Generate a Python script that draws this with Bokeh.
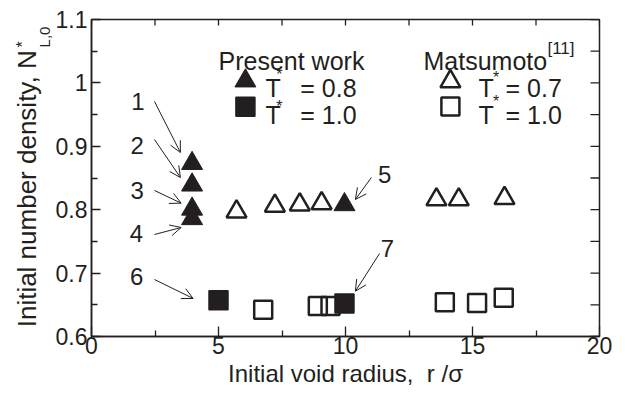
import math
from bokeh.plotting import figure
from bokeh.models import Range1d, FixedTicker, Label, Arrow, OpenHead
from bokeh.embed import file_html
from bokeh.resources import INLINE

# ---------------- data ----------------
x_ticks = [0, 5, 10, 15, 20]
x_tick_labels = ["0", "5", "10", "15", "20"]
y_ticks = [0.6, 0.7, 0.8, 0.9, 1.0, 1.1]
y_tick_labels = ["0.6", "0.7", "0.8", "0.9", "1", "1.1"]

# Present work, T* = 0.8 (filled triangles) ; points 1-4 and 5
present_t08_x = [3.96, 3.96, 3.96, 3.96, 9.96]
present_t08_y = [0.873, 0.839, 0.801, 0.786, 0.808]
# Present work, T* = 1.0 (filled squares) ; points 6 and 7
present_t10_x = [5.00, 9.96]
present_t10_y = [0.657, 0.652]
# Matsumoto [11], T* = 0.7 (open triangles)
mats_t07_x = [5.71, 7.22, 8.20, 9.06, 13.58, 14.46, 16.26]
mats_t07_y = [0.797, 0.806, 0.808, 0.810, 0.816, 0.816, 0.818]
# Matsumoto [11], T* = 1.0 (open squares)
mats_t10_x = [6.76, 8.91, 9.41, 13.91, 15.18, 16.23]
mats_t10_y = [0.642, 0.648, 0.648, 0.654, 0.653, 0.661]

# ---------------- style ----------------
INK = "#231f20"
FONT = "Liberation Sans"
FS = "24px"
LEG_FS = "25px"
TICK_FS = "23px"
SMALL_FS = "16px"
NBSP = "\u00a0"

X0, X1 = 0, 20
Y0, Y1 = 0.6, 1.1
FRAME_W, FRAME_H = 508, 317

p = figure(width=625, height=396,
           x_range=Range1d(X0, X1), y_range=Range1d(Y0, Y1),
           output_backend="svg", toolbar_location=None,
           min_border_left=91, min_border_right=26,
           min_border_top=19, min_border_bottom=60)
p.xgrid.visible = False
p.ygrid.visible = False
p.outline_line_color = INK
p.outline_line_width = 1.5
p.background_fill_color = "white"
p.border_fill_color = "white"


def style_axis(ax, tick_in, minor_in, standoff):
    ax.axis_line_color = INK
    ax.axis_line_width = 1.5
    ax.major_tick_line_color = INK
    ax.major_tick_line_width = 1.3
    ax.major_tick_in = tick_in
    ax.major_tick_out = 0
    ax.minor_tick_line_color = INK
    ax.minor_tick_line_width = 1.3
    ax.minor_tick_in = minor_in
    ax.minor_tick_out = 0
    ax.major_label_text_font = FONT
    ax.major_label_text_font_size = TICK_FS
    ax.major_label_text_color = INK
    ax.major_label_standoff = standoff
    ax.axis_label_text_font = FONT
    ax.axis_label_text_font_style = "normal"
    ax.axis_label_text_color = INK


x_minor = [(a + b) / 2 for a, b in zip(x_ticks[:-1], x_ticks[1:])]
y_minor = [round((a + b) / 2, 3) for a, b in zip(y_ticks[:-1], y_ticks[1:])]

xb = p.xaxis[0]
xb.ticker = FixedTicker(ticks=x_ticks, minor_ticks=x_minor)
xb.major_label_overrides = {t: s for t, s in zip(x_ticks, x_tick_labels)}
style_axis(xb, 10, 6, 0)
xb.axis_label = "Initial void radius," + NBSP + NBSP + "r /\u03c3"
xb.axis_label_text_font_size = FS
xb.axis_label_standoff = 3

yl = p.yaxis[0]
yl.ticker = FixedTicker(ticks=y_ticks, minor_ticks=y_minor)
yl.major_label_overrides = {t: s for t, s in zip(y_ticks, y_tick_labels)}
style_axis(yl, 9, 6, 4)
yl.axis_label = "Initial number density, N" + NBSP * 3
yl.axis_label_text_font_size = "26px"
yl.axis_label_standoff = 11

# mirrored inward ticks on the top and right edges, from the tick lists
top_ticks = sorted(x_ticks + x_minor)
right_ticks = sorted(y_ticks + y_minor)
top_len = 6 * (Y1 - Y0) / FRAME_H
right_len = 9 * (X1 - X0) / FRAME_W
p.segment(x0=top_ticks, y0=[Y1] * len(top_ticks), x1=top_ticks,
          y1=[Y1 - top_len] * len(top_ticks), line_color=INK, line_width=1.3)
p.segment(x0=[X1] * len(right_ticks), y0=right_ticks,
          x1=[X1 - right_len] * len(right_ticks), y1=right_ticks,
          line_color=INK, line_width=1.3)

# ---------------- data marks ----------------
p.scatter(mats_t07_x, mats_t07_y, marker="triangle", size=20,
          fill_color=None, line_color=INK, line_width=2.5)
p.scatter(mats_t10_x, mats_t10_y, marker="square", size=18,
          fill_color=None, line_color=INK, line_width=2.5)
p.scatter(present_t08_x, present_t08_y, marker="triangle", size=21,
          fill_color=INK, line_color=INK, line_width=1)
p.scatter(present_t10_x, present_t10_y, marker="square", size=19,
          fill_color=INK, line_color=INK, line_width=1.5)


def make_label(x, y, text, size=FS, align="left", baseline="alphabetic",
               angle=0.0, font=FONT, style="normal"):
    return Label(x=x, y=y, text=text, text_font=font,
                 text_font_size=size, text_color=INK,
                 text_align=align, text_baseline=baseline,
                 angle=angle, text_font_style=style)


def label(*args, **kw):
    p.add_layout(make_label(*args, **kw))


# ---------------- legend (drawn by hand) ----------------
label(5.00, 1.0353, "Present work", size=LEG_FS)
p.scatter([6.06], [1.0032], marker="triangle", size=21,
          fill_color=INK, line_color=INK, line_width=1)
p.scatter([6.06], [0.9623], marker="square", size=19,
          fill_color=INK, line_color=INK, line_width=1.5)
label(6.85, 0.992, "T", size=LEG_FS)
label(7.27, 1.0125, "*", size=SMALL_FS)
label(8.22, 0.992, "= 0.8", size=LEG_FS)
label(6.85, 0.9486, "T", size=LEG_FS)
label(7.27, 0.962, "*", size=SMALL_FS)
label(8.22, 0.9486, "= 1.0", size=LEG_FS)

label(13.07, 1.0353, "Matsumoto", size=LEG_FS)
label(17.95, 1.0543, "[11]", size="17px")
p.scatter([14.13], [1.0022], marker="triangle", size=20,
          fill_color=None, line_color=INK, line_width=2.5)
p.scatter([14.13], [0.9628], marker="square", size=18,
          fill_color=None, line_color=INK, line_width=2.5)
label(15.24, 0.9912, "T", size=LEG_FS)
label(15.81, 1.0093, "*", size=SMALL_FS)
label(16.30, 0.9912, "= 0.7", size=LEG_FS)
label(15.24, 0.9486, "T", size=LEG_FS)
label(15.81, 0.9699, "*", size=SMALL_FS)
label(16.30, 0.9486, "= 1.0", size=LEG_FS)

# ---------------- numbered annotations ----------------
num_labels = [("1", 1.83, 0.9707), ("2", 1.80, 0.9013), ("3", 1.80, 0.8295),
              ("4", 1.77, 0.7617), ("5", 11.54, 0.8555), ("6", 1.78, 0.695),
              ("7", 11.65, 0.7388)]
for t, x, y in num_labels:
    label(x, y, t, align="center", baseline="middle")

arrows = [(2.48, 0.9707, 3.50, 0.8902), (2.48, 0.9107, 3.50, 0.8508),
          (2.48, 0.8303, 3.53, 0.8103), (2.48, 0.7609, 3.53, 0.7719),
          (11.02, 0.8508, 10.39, 0.8161), (2.48, 0.6899, 4.00, 0.6600),
          (11.34, 0.7309, 10.39, 0.6714)]
for xs, ys, xe, ye in arrows:
    p.add_layout(Arrow(x_start=xs, y_start=ys, x_end=xe, y_end=ye,
                       line_color=INK, line_width=1,
                       end=OpenHead(size=11, line_color=INK, line_width=1)))

# ---------------- superscript / subscript of the y title (side panels, unclipped) ----------------
p.add_layout(make_label(-2.717, 1.0559, "*", size=SMALL_FS, angle=math.pi / 2), "above")
p.add_layout(make_label(-1.85, 1.0559, "L,0", size="15px", angle=math.pi / 2), "right")

open("out.html", "w").write(file_html(p, INLINE))
